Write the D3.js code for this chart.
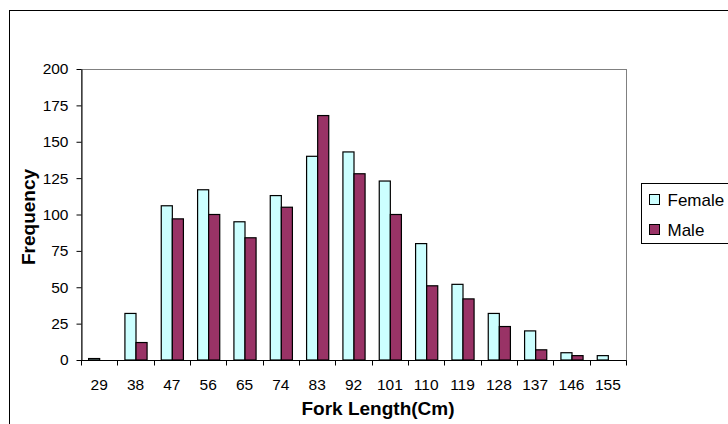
<!DOCTYPE html>
<html>
<head>
<meta charset="utf-8">
<script src="https://cdn.jsdelivr.net/npm/d3@7"></script>
<style>
  body { margin: 0; background: #fff; }
  svg { font-family: "Liberation Sans", Arial, sans-serif; }
</style>
</head>
<body>
<div id="chart"></div>
<script>
// data
const lengths = ["29", "38", "47", "56", "65", "74", "83", "92", "101", "110", "119", "128", "137", "146", "155"];
const female = [1, 32, 106, 117, 95, 113, 140, 143, 123, 80, 52, 32, 20, 5, 3];
const male = [0, 12, 97, 100, 84, 105, 168, 128, 100, 51, 42, 23, 7, 3, 0];
const yTicks = [0, 25, 50, 75, 100, 125, 150, 175, 200];
const seriesNames = ["Female", "Male"];
const seriesColors = ["#ccffff", "#993366"];

const W = 728, H = 424;
const margin = {top: 69, right: 102, bottom: 64, left: 81};
const width = W - margin.left - margin.right;
const height = H - margin.top - margin.bottom;

const svg = d3.select("#chart")
    .append("svg")
    .attr("width", W)
    .attr("height", H);

// outer chart border (cut off at right and bottom)
svg.append("rect")
    .attr("x", 9.5).attr("y", 10.5)
    .attr("width", W).attr("height", H)
    .attr("fill", "none")
    .attr("stroke", "#000");

const g = svg.append("g")
    .attr("transform", `translate(${margin.left}, ${margin.top})`);

// plot area border
g.append("rect")
    .attr("x", 0.5).attr("y", 0.5)
    .attr("width", width).attr("height", height)
    .attr("fill", "none")
    .attr("stroke", "#808080");

const x = d3.scaleBand()
    .domain(lengths)
    .range([0, width]);

const x1 = d3.scaleBand()
    .domain(seriesNames)
    .range([0, x.bandwidth()])
    .paddingInner(0)
    .paddingOuter(0.64);

const y = d3.scaleLinear()
    .domain([0, 200])
    .range([height, 0]);

// Y axis
const yAxis = g.append("g")
    .attr("transform", "translate(0.5,0)")
    .call(d3.axisLeft(y).tickValues(yTicks).tickSize(5).tickSizeOuter(0));
yAxis.select(".domain").attr("stroke", "#000");
yAxis.selectAll("text")
    .style("font-size", "15.5px")
    .style("font-family", "'Liberation Sans', Arial, sans-serif")
    .attr("fill", "#000")
    .attr("x", -13);

// X axis, ticks between categories
const xAxis = g.append("g")
    .attr("transform", `translate(0, ${height + 0.5})`);
xAxis.append("line")
    .attr("x1", 0).attr("x2", width + 0.5)
    .attr("stroke", "#000");
xAxis.selectAll("line.tick")
    .data(lengths.concat(["end"]))
    .join("line")
    .attr("class", "tick")
    .attr("x1", (d, i) => Math.round(i * x.step()) + 0.5)
    .attr("x2", (d, i) => Math.round(i * x.step()) + 0.5)
    .attr("y1", 0).attr("y2", 5)
    .attr("stroke", "#000");
xAxis.selectAll("text")
    .data(lengths)
    .join("text")
    .attr("x", d => x(d) + x.bandwidth() / 2)
    .attr("y", 29)
    .attr("text-anchor", "middle")
    .style("font-size", "15.5px")
    .text(d => d);

// bars
const rows = lengths.map((l, i) => ({len: l, values: [female[i], male[i]]}));
g.selectAll("g.cat")
    .data(rows)
    .join("g")
    .attr("class", "cat")
    .attr("transform", d => `translate(${x(d.len)},0)`)
    .selectAll("rect")
    .data(d => d.values.map((v, k) => ({name: seriesNames[k], v: v, k: k})).filter(e => e.v > 0))
    .join("rect")
    .attr("x", d => x1(d.name) + 0.5)
    .attr("y", d => y(d.v))
    .attr("width", x1.bandwidth())
    .attr("height", d => height - y(d.v))
    .attr("fill", d => seriesColors[d.k])
    .attr("stroke", "#000")
    .attr("stroke-width", 1.2);

// axis titles
svg.append("text")
    .attr("transform", `translate(35, 217) rotate(-90)`)
    .attr("text-anchor", "middle")
    .style("font-size", "19px")
    .style("font-weight", "bold")
    .text("Frequency");

svg.append("text")
    .attr("x", 378)
    .attr("y", 415)
    .attr("text-anchor", "middle")
    .style("font-size", "19px")
    .style("font-weight", "bold")
    .text("Fork Length(Cm)");

// legend
const legend = svg.append("g").attr("transform", "translate(641.5, 183.5)");
legend.append("rect")
    .attr("width", 100).attr("height", 60)
    .attr("fill", "#fff")
    .attr("stroke", "#000");
const items = legend.selectAll("g.item")
    .data(seriesNames)
    .join("g")
    .attr("class", "item")
    .attr("transform", (d, i) => `translate(8, ${11 + i * 30})`);
items.append("rect")
    .attr("width", 10).attr("height", 10)
    .attr("fill", (d, i) => seriesColors[i])
    .attr("stroke", "#000");
items.append("text")
    .attr("x", 18).attr("y", 11)
    .style("font-size", "17px")
    .text(d => d);
</script>
</body>
</html>
